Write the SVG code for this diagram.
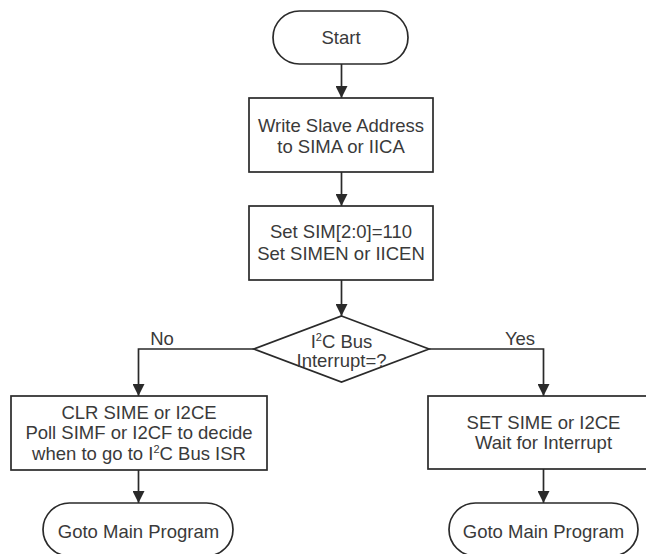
<svg xmlns="http://www.w3.org/2000/svg" width="646" height="554" viewBox="0 0 646 554">
<style>
.shape{fill:#fff;stroke:#2a2a2a;stroke-width:1.7}
.conn{fill:none;stroke:#2a2a2a;stroke-width:1.7}
text{font-family:"Liberation Sans",Arial,sans-serif;font-size:18.5px;fill:#3a3a3a;text-anchor:middle}
.sup{font-size:11px}
</style>
<defs>
<marker id="arr" markerUnits="userSpaceOnUse" markerWidth="12" markerHeight="12" refX="12" refY="6" orient="auto">
<path d="M0,0 L12,6 L0,12 z" fill="#2a2a2a"/>
</marker>
</defs>
<rect width="646" height="554" fill="#fff"/>
<g id="connectors">
<path class="conn" d="M341.5,64 V98" marker-end="url(#arr)"/>
<path class="conn" d="M341.5,172 V206" marker-end="url(#arr)"/>
<path class="conn" d="M341.5,280 V316" marker-end="url(#arr)"/>
<path class="conn" d="M254,349 H138.5 V396" marker-end="url(#arr)"/>
<path class="conn" d="M429,349 H543.5 V396" marker-end="url(#arr)"/>
<path class="conn" d="M138.5,470 V503" marker-end="url(#arr)"/>
<path class="conn" d="M543.5,469 V503" marker-end="url(#arr)"/>
<text x="162" y="344.5">No</text>
<text x="520" y="344.5">Yes</text>
</g>
<g id="start">
<rect class="shape" x="273" y="11" width="135" height="53" rx="26.5" ry="26.5"/>
<text x="341" y="44">Start</text>
</g>
<g id="write-addr">
<rect class="shape" x="249" y="98" width="184" height="74"/>
<text x="341" y="131.5">Write Slave Address</text>
<text x="341" y="153">to SIMA or IICA</text>
</g>
<g id="set-sim">
<rect class="shape" x="249" y="206" width="184" height="74"/>
<text x="341" y="238">Set SIM[2:0]=110</text>
<text x="341" y="259.5">Set SIMEN or IICEN</text>
</g>
<g id="decision">
<polygon class="shape" points="341.5,316 429,349 341.5,382 254,349"/>
<text x="341.5" y="347.5">I<tspan class="sup" dy="-7">2</tspan><tspan dy="7">C Bus</tspan></text>
<text x="341.5" y="366.5">Interrupt=?</text>
</g>
<g id="clr-sime">
<rect class="shape" x="11" y="396" width="256" height="74"/>
<text x="139" y="418.5">CLR SIME or I2CE</text>
<text x="139" y="439">Poll SIMF or I2CF to decide</text>
<text x="139" y="459.5">when to go to I<tspan class="sup" dy="-7">2</tspan><tspan dy="7">C Bus ISR</tspan></text>
</g>
<g id="set-sime">
<rect class="shape" x="428" y="396" width="230" height="73"/>
<text x="543.5" y="429">SET SIME or I2CE</text>
<text x="543.5" y="448.5">Wait for Interrupt</text>
</g>
<g id="goto-left">
<rect class="shape" x="43" y="503" width="190" height="53" rx="26.5" ry="26.5"/>
<text x="138.5" y="537.5">Goto Main Program</text>
</g>
<g id="goto-right">
<rect class="shape" x="449" y="503" width="189" height="53" rx="26.5" ry="26.5"/>
<text x="543.5" y="537.5">Goto Main Program</text>
</g>
</svg>
